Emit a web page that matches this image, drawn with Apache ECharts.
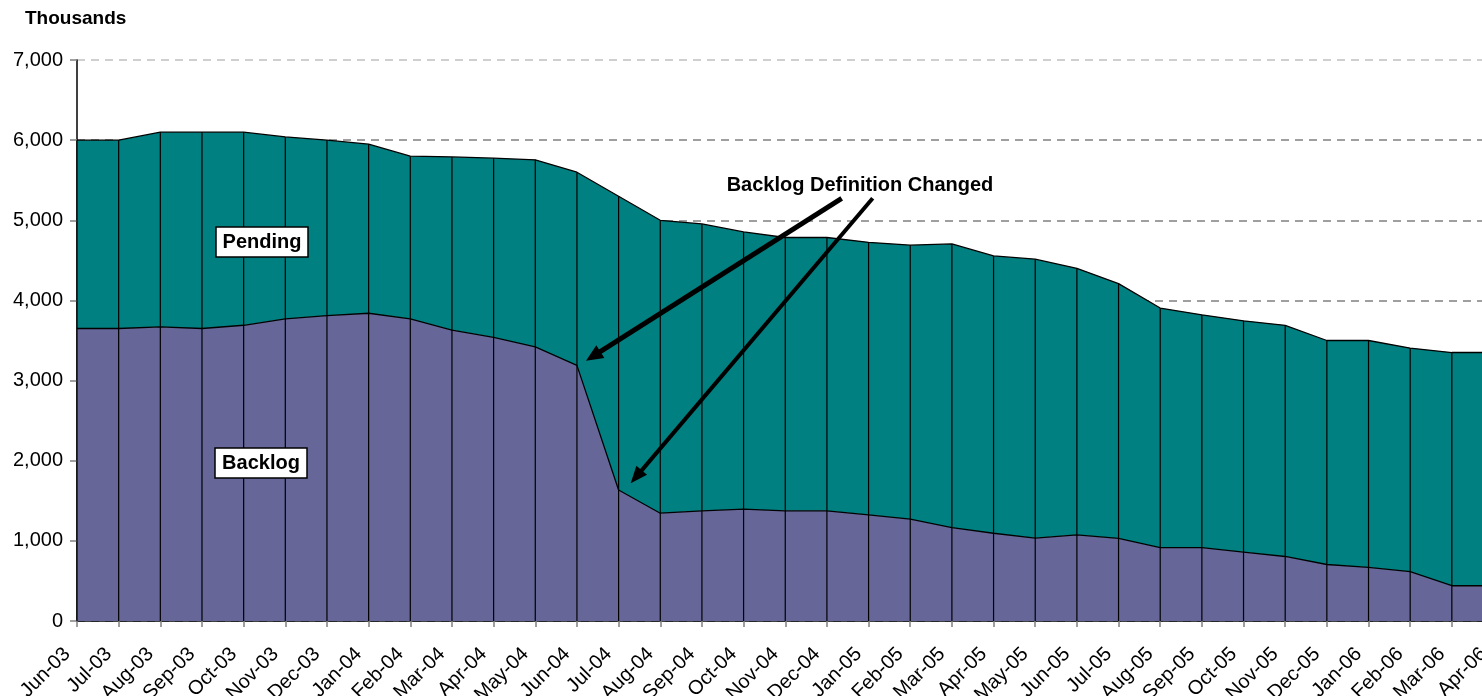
<!DOCTYPE html>
<html>
<head>
<meta charset="utf-8">
<script src="https://cdn.jsdelivr.net/npm/echarts@6/dist/echarts.min.js"></script>
<style>
html,body{margin:0;padding:0;background:#fff;overflow:hidden;}
#chart{width:1482px;height:696px;}
</style>
</head>
<body>
<div id="chart"></div>
<script>
var categories = ['Jun-03','Jul-03','Aug-03','Sep-03','Oct-03','Nov-03','Dec-03','Jan-04','Feb-04','Mar-04','Apr-04','May-04','Jun-04','Jul-04','Aug-04','Sep-04','Oct-04','Nov-04','Dec-04','Jan-05','Feb-05','Mar-05','Apr-05','May-05','Jun-05','Jul-05','Aug-05','Sep-05','Oct-05','Nov-05','Dec-05','Jan-06','Feb-06','Mar-06','Apr-06'];
var backlog = [3650,3650,3670,3650,3690,3770,3810,3840,3770,3630,3540,3420,3190,1635,1345,1375,1395,1375,1375,1325,1270,1165,1095,1035,1075,1030,915,915,860,805,705,670,615,440,440];
var pending = [2350,2350,2430,2450,2410,2270,2190,2110,2030,2160,2235,2335,2410,3665,3655,3580,3460,3410,3410,3400,3420,3540,3460,3480,3325,3180,2990,2905,2885,2885,2795,2830,2790,2910,2910];
var yTicks = [0,1000,2000,3000,4000,5000,6000,7000];

var FONT = '"Liberation Sans", Arial, sans-serif';
var chart = echarts.init(document.getElementById('chart'));

function arrow(x1, y1, x2, y2, w, headLen, headHalf) {
  var dx = x2 - x1, dy = y2 - y1;
  var L = Math.sqrt(dx*dx + dy*dy);
  var ux = dx / L, uy = dy / L;
  var bx = x2 - ux*headLen, by = y2 - uy*headLen;
  var px = -uy, py = ux;
  return [
    {type:'line', shape:{x1:x1, y1:y1, x2:bx + ux*2, y2:by + uy*2}, style:{stroke:'#000', lineWidth:w}, z:100},
    {type:'polygon', shape:{points:[[x2,y2],[bx + px*headHalf, by + py*headHalf],[bx - px*headHalf, by - py*headHalf]]}, style:{fill:'#000'}, z:100}
  ];
}

var seriesData = categories.map(function(c, i){ return [i, backlog[i], pending[i]]; });

var graphics = [
  {type:'text', left:25, top:9, style:{text:'Thousands', font:'bold 19px ' + FONT, fill:'#000'}, z:100},
  {type:'rect', shape:{x:216, y:227, width:92, height:30}, style:{fill:'#fff', stroke:'#000', lineWidth:1.5}, z:100},
  {type:'text', x:262, y:242, style:{text:'Pending', font:'bold 20px ' + FONT, fill:'#000', align:'center', verticalAlign:'middle'}, z:101},
  {type:'rect', shape:{x:215, y:448, width:92, height:30}, style:{fill:'#fff', stroke:'#000', lineWidth:1.5}, z:100},
  {type:'text', x:261, y:463, style:{text:'Backlog', font:'bold 20px ' + FONT, fill:'#000', align:'center', verticalAlign:'middle'}, z:101},
  {type:'text', x:860, y:185, style:{text:'Backlog Definition Changed', font:'bold 20px ' + FONT, fill:'#000', align:'center', verticalAlign:'middle'}, z:101}
].concat(arrow(841.7, 198.3, 586, 360.7, 5, 17, 7.5))
 .concat(arrow(872.7, 198.3, 630.7, 483.3, 4, 17, 7));

var option = {
  animation: false,
  backgroundColor: '#fff',
  textStyle: {fontFamily: FONT},
  grid: {left: 77, right: -11.5, top: 60, bottom: 75, containLabel: false, outerBoundsMode: 'none'},
  xAxis: {
    type: 'category',
    data: categories,
    boundaryGap: false,
    axisLine: {show: true, lineStyle: {color: '#000', width: 1.5}},
    axisTick: {show: true, length: 6, lineStyle: {color: '#808080', width: 1.5}},
    axisLabel: {rotate: 45, interval: 0, fontSize: 20, color: '#000', fontFamily: FONT, margin: 20, padding: [0, 14, 0, 0]},
    splitLine: {show: false}
  },
  yAxis: {
    type: 'value',
    min: 0, max: 7000, interval: 1000,
    axisLine: {show: true, lineStyle: {color: '#000', width: 1.5}},
    axisTick: {show: true, length: 7, lineStyle: {color: '#808080', width: 1.5}},
    axisLabel: {fontSize: 20, color: '#000', fontFamily: FONT, margin: 14,
      formatter: function(v){ return v.toLocaleString('en-US'); }},
    splitLine: {show: true, lineStyle: {color: ['#808080','#808080','#808080','#808080','#808080','#808080','#808080','#c0c0c0'], type: [8, 6], width: 1.5}}
  },
  series: [
    {
      name: 'Backlog', type: 'line', stack: 'total', data: backlog,
      symbol: 'none', lineStyle: {color: '#000', width: 1.3},
      areaStyle: {color: '#666699', opacity: 1}, z: 3
    },
    {
      name: 'Pending', type: 'line', stack: 'total', data: pending,
      symbol: 'none', lineStyle: {color: '#000', width: 1.3},
      areaStyle: {color: '#008080', opacity: 1}, z: 2
    },
    {
      name: 'drops', type: 'custom', data: seriesData, z: 4,
      encode: {x: 0, y: [1, 2]},
      renderItem: function(params, api) {
        var i = api.value(0);
        var top = api.value(1) + api.value(2);
        var p0 = api.coord([i, 0]);
        var p1 = api.coord([i, top]);
        return {type: 'line', shape: {x1: p0[0], y1: p0[1], x2: p1[0], y2: p1[1]}, style: {stroke: '#000', lineWidth: 1.2}};
      }
    }
  ],
  graphic: graphics
};
chart.setOption(option);
</script>
</body>
</html>
